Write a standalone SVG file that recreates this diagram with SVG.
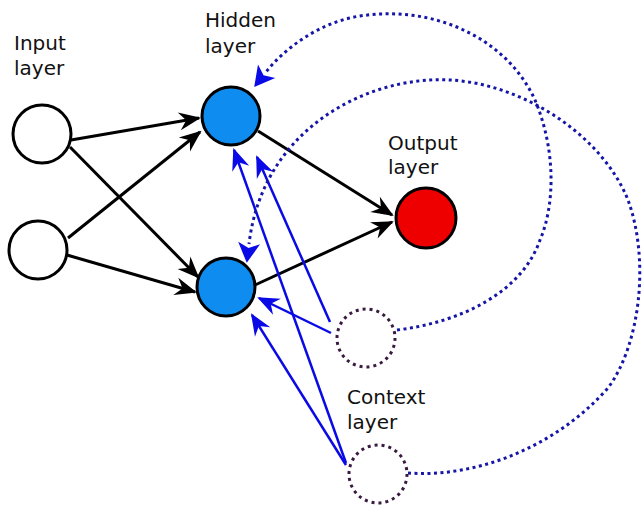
<svg xmlns="http://www.w3.org/2000/svg" width="644" height="509" viewBox="0 0 644 509">
  <style>
    .lbl { font-family: "DejaVu Sans", "Liberation Sans", sans-serif; font-size: 20px; fill: #111; }
    .plain { fill: #fff; stroke: #000; stroke-width: 3; }
    .hidden { fill: #0f8cef; stroke: #000; stroke-width: 3; }
    .out { fill: #ee0000; stroke: #000; stroke-width: 3; }
    .ctx { fill: none; stroke: #3a1a40; stroke-width: 3; stroke-dasharray: 3 4; }
    .wire { stroke: #000; stroke-width: 3; fill: none; marker-end: url(#ah-black); }
    .feed { stroke: #0a0ae6; stroke-width: 2.5; fill: none; marker-end: url(#ah-blue); }
    .loop { stroke: #1515a8; stroke-width: 3; fill: none; stroke-dasharray: 3 3.5; marker-end: url(#ah-loop); }
  </style>
  <defs>
    <marker id="ah-black" markerUnits="userSpaceOnUse" viewBox="-24 -12 28 24" markerWidth="28" markerHeight="24" refX="0" refY="0" orient="auto" overflow="visible">
      <path d="M2,0 L-20,-9 L-13,0 L-20,9 z" fill="#000"/>
    </marker>
    <marker id="ah-blue" markerUnits="userSpaceOnUse" viewBox="-24 -12 28 24" markerWidth="28" markerHeight="24" refX="0" refY="0" orient="auto" overflow="visible">
      <path d="M2,0 L-20,-9 L-13,0 L-20,9 z" fill="#0a0ae6"/>
    </marker>
    <marker id="ah-loop" markerUnits="userSpaceOnUse" viewBox="-22 -12 26 24" markerWidth="26" markerHeight="24" refX="0" refY="0" orient="auto" overflow="visible">
      <path d="M19,0 L-1,-11 L4,0 L-1,11 z" fill="#0a0ae6"/>
    </marker>
  </defs>

  <!-- connectors -->
  <g id="connectors">
    <!-- input to hidden -->
    <line class="wire" x1="71" y1="140" x2="199" y2="118"/>
    <line class="wire" x1="68" y1="238" x2="200" y2="132"/>
    <line class="wire" x1="70" y1="147" x2="198" y2="277"/>
    <line class="wire" x1="67" y1="255" x2="195" y2="292"/>
    <!-- hidden to output -->
    <line class="wire" x1="258" y1="131" x2="392" y2="215"/>
    <line class="wire" x1="255" y1="285" x2="392" y2="222"/>
    <!-- context to hidden -->
    <line class="feed" x1="330" y1="322" x2="257" y2="157"/>
    <line class="feed" x1="331" y1="333" x2="259" y2="298"/>
    <line class="feed" x1="346" y1="463" x2="234" y2="150"/>
    <line class="feed" x1="346" y1="465" x2="252" y2="315"/>
    <!-- copy-back loops from context units to hidden units -->
    <path class="loop" d="M397,330 C462,322 522,292 540,240 C555,205 556,150 535,100 C505,35 430,5 360,16 C320,22 285,48 266,72"/>
    <path class="loop" d="M408,473 C475,478 555,448 608,388 C640,345 650,260 628,200 C600,130 510,75 430,80 C355,84 262,135 249,244"/>
  </g>

  <!-- input layer -->
  <g id="input-1"><circle class="plain" cx="42" cy="134" r="29"/></g>
  <g id="input-2"><circle class="plain" cx="38" cy="250" r="29"/></g>
  <g id="input-label">
    <text class="lbl" x="14" y="50">Input</text>
    <text class="lbl" x="14" y="75">layer</text>
  </g>

  <!-- hidden layer -->
  <g id="hidden-1"><circle class="hidden" cx="231" cy="116" r="29"/></g>
  <g id="hidden-2"><circle class="hidden" cx="226" cy="287" r="29"/></g>
  <g id="hidden-label">
    <text class="lbl" x="205" y="27">Hidden</text>
    <text class="lbl" x="205" y="53">layer</text>
  </g>

  <!-- output layer -->
  <g id="output-1"><circle class="out" cx="426" cy="218" r="30"/></g>
  <g id="output-label">
    <text class="lbl" x="388" y="150">Output</text>
    <text class="lbl" x="388" y="174">layer</text>
  </g>

  <!-- context layer -->
  <g id="context-1"><circle class="ctx" cx="366" cy="338" r="29"/></g>
  <g id="context-2"><circle class="ctx" cx="378" cy="474" r="29"/></g>
  <g id="context-label">
    <text class="lbl" x="347" y="404">Context</text>
    <text class="lbl" x="347" y="429">layer</text>
  </g>
</svg>
